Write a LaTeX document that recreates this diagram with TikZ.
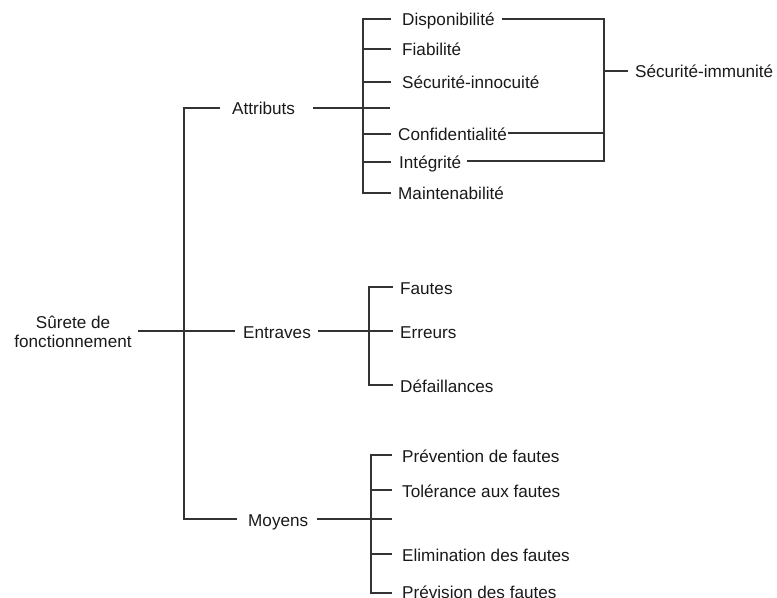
\documentclass[tikz,border=0pt]{standalone}
\usepackage{fontspec}
\setmainfont{Liberation Sans}
\begin{document}
\begin{tikzpicture}[x=1bp,y=-1bp,
  lbl/.style={inner sep=0pt, font=\fontsize{17.2}{19.5}\selectfont, anchor=base west, text=black!90},
  ln/.style={draw=black!80, line width=1.1bp}]
\useasboundingbox (0,0) rectangle (777,598);
% root and level 1
\node[lbl, anchor=center, align=center] (root) at (73,332) {Sûrete de\\fonctionnement};
\node[lbl] (attr) at (232,115) {Attributs};
\node[lbl] (entr) at (243,338) {Entraves};
\node[lbl] (moy) at (248,526) {Moyens};
% attributes
\node[lbl] (disp) at (402,26) {Disponibilité};
\node[lbl] (fiab) at (402,56) {Fiabilité};
\node[lbl] (secu) at (402,89) {Sécurité-innocuité};
\node[lbl] (conf) at (398,141) {Confidentialité};
\node[lbl] (integ) at (399,169) {Intégrité};
\node[lbl] (maint) at (398,200) {Maintenabilité};
\node[lbl] (immu) at (635,78) {Sécurité-immunité};
% entraves
\node[lbl] (faut) at (400,294) {Fautes};
\node[lbl] (err) at (400,338) {Erreurs};
\node[lbl] (def) at (400,392) {Défaillances};
% moyens
\node[lbl] (prev) at (402,462) {Prévention de fautes};
\node[lbl] (tol) at (402,497) {Tolérance aux fautes};
\node[lbl] (elim) at (402,561) {Elimination des fautes};
\node[lbl] (prevs) at (402,598) {Prévision des fautes};
% bus coordinates
\coordinate (mainbus) at (184,331);
\coordinate (abus) at (363,108);
\coordinate (ebus) at (369,331);
\coordinate (mbus) at (371,519);
\coordinate (sbus) at (604,71);
% main tree
\draw[ln] ([xshift=6]root.east |- mainbus) -- ([xshift=-8]entr.west |- mainbus);
\draw[ln] ([xshift=-12]attr.west |- abus) -| (mainbus) |- ([xshift=-11]moy.west |- mbus);
% attributs
\draw[ln] ([xshift=18]attr.east |- abus) -- ([xshift=-12]secu.west |- abus);
\draw[ln] ([xshift=-11]disp.west |- 0,19) -| (abus) |- ([xshift=-7]maint.west |- 0,193);
\draw[ln] ([xshift=-11]fiab.west |- 0,49) -- (abus |- 0,49);
\draw[ln] ([xshift=-11]secu.west |- 0,82) -- (abus |- 0,82);
\draw[ln] ([xshift=-7]conf.west |- 0,134) -- (abus |- 0,134);
\draw[ln] ([xshift=-8]integ.west |- 0,162) -- (abus |- 0,162);
% securite-immunite
\draw[ln] ([xshift=7]disp.east |- 0,19) -| (sbus) |- ([xshift=6]integ.east |- 0,161);
\draw[ln] ([xshift=1]conf.east |- 0,133) -- (sbus |- 0,133);
\draw[ln] (sbus) -- ([xshift=-7]immu.west |- sbus);
% entraves
\draw[ln] ([xshift=7]entr.east |- ebus) -- ([xshift=-7]err.west |- ebus);
\draw[ln] ([xshift=-7]faut.west |- 0,287) -| (ebus) |- ([xshift=-7]def.west |- 0,385);
% moyens
\draw[ln] ([xshift=9]moy.east |- mbus) -- ([xshift=-10]prev.west |- mbus);
\draw[ln] ([xshift=-10]prev.west |- 0,455) -| (mbus) |- ([xshift=-10]prevs.west |- 0,593);
\draw[ln] ([xshift=-10]tol.west |- 0,490) -- (mbus |- 0,490);
\draw[ln] ([xshift=-10]elim.west |- 0,554) -- (mbus |- 0,554);
\end{tikzpicture}
\end{document}
